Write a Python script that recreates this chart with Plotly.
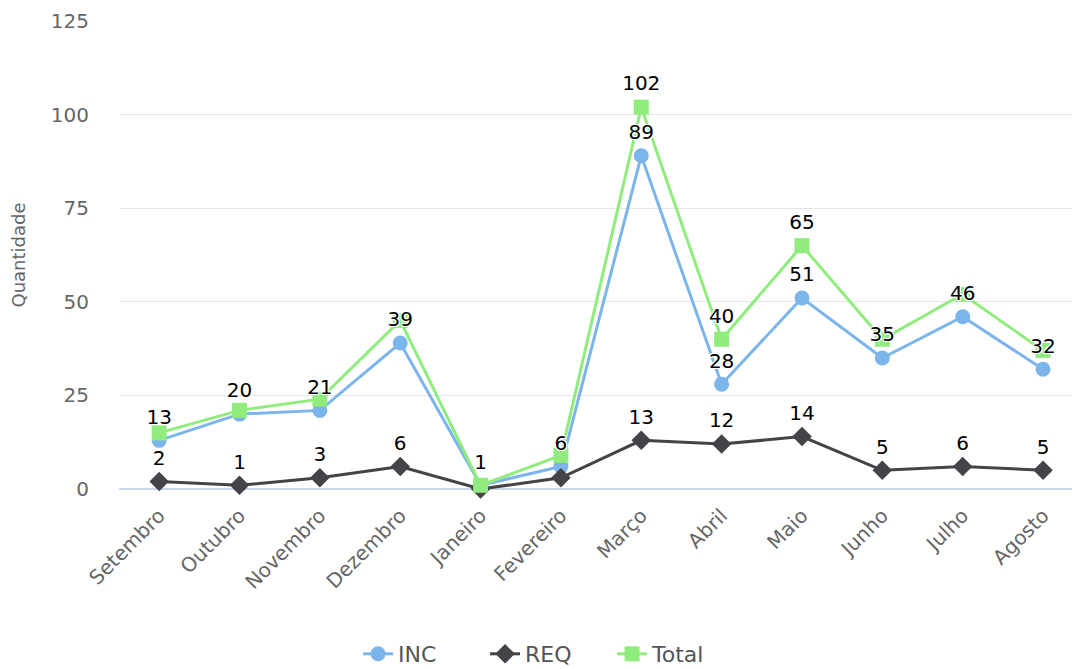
import plotly.graph_objects as go

months = ["Setembro", "Outubro", "Novembro", "Dezembro", "Janeiro", "Fevereiro",
          "Março", "Abril", "Maio", "Junho", "Julho", "Agosto"]
inc = [13, 20, 21, 39, 1, 6, 89, 28, 51, 35, 46, 32]
req = [2, 1, 3, 6, 0, 3, 13, 12, 14, 5, 6, 5]
total = [15, 21, 24, 45, 1, 9, 102, 40, 65, 40, 52, 37]

# which data labels remain visible (overlapping ones are hidden in the original)
show_inc = [1, 1, 1, 1, 1, 1, 1, 1, 1, 1, 1, 1]
show_req = [1, 1, 1, 1, 0, 0, 1, 1, 1, 1, 1, 1]
show_total = [0, 0, 0, 0, 0, 0, 1, 1, 1, 0, 0, 0]

y_ticks = [0, 25, 50, 75, 100, 125]

C_INC = "#7cb5ec"
C_REQ = "#434348"
C_TOT = "#90ed7d"
FONT = "DejaVu Sans"

x = list(range(len(months)))

fig = go.Figure()
series = [
    ("INC", inc, C_INC, "circle", 15, show_inc),
    ("REQ", req, C_REQ, "diamond", 15, show_req),
    ("Total", total, C_TOT, "square", 15, show_total),
]
for name, vals, col, sym, size, _ in series:
    fig.add_trace(go.Scatter(
        x=x, y=vals, name=name, mode="lines+markers",
        line=dict(color=col, width=3),
        marker=dict(color=col, symbol=sym, size=size, line=dict(width=0)),
        hoverinfo="skip", cliponaxis=False,
    ))

outline = "1px 1px 0 #fff, -1px -1px 0 #fff, 1px -1px 0 #fff, -1px 1px 0 #fff, 0 1px 0 #fff, 0 -1px 0 #fff, 1px 0 0 #fff, -1px 0 0 #fff"
for name, vals, col, sym, size, show in series:
    fig.add_trace(go.Scatter(
        x=x, y=vals, mode="markers+text", showlegend=False,
        marker=dict(size=17, opacity=0),
        text=[str(v) if s else "" for v, s in zip(vals, show)],
        textposition="top center",
        textfont=dict(family=FONT, size=20, color="#000000", shadow=outline),
        hoverinfo="skip", cliponaxis=False,
    ))

# the page body has an 8px default margin, so the figure is sized to fit inside the window
fig.update_layout(
    width=1072, height=661,
    margin=dict(l=111, r=0, t=13, b=180, autoexpand=False),
    paper_bgcolor="white", plot_bgcolor="white",
    font=dict(family=FONT, color="#666666"),
    showlegend=True,
    legend=dict(orientation="h", x=0.447, xanchor="center", y=-0.3526, yanchor="middle",
                font=dict(family=FONT, size=22, color="#555555"),
                itemwidth=30, entrywidth=82, traceorder="normal"),
    xaxis=dict(
        tickmode="array", tickvals=x, ticktext=months,
        range=[-0.5, 11.46], tickangle=-45,
        tickfont=dict(family=FONT, size=20, color="#666666"),
        ticks="outside", ticklen=6, tickcolor="rgba(0,0,0,0)",
        showgrid=False, zeroline=False,
        showline=False, automargin=False,
        fixedrange=True,
    ),
    yaxis=dict(
        range=[0, 125], tickvals=y_ticks,
        tickfont=dict(family=FONT, size=20, color="#666666"),
        gridcolor="#e6e6e6", gridwidth=1,
        zeroline=True, zerolinecolor="#ccd6eb", zerolinewidth=2,
        ticks="outside", ticklen=25, tickcolor="rgba(0,0,0,0)",
        automargin=False,
        title=dict(text="Quantidade", font=dict(family=FONT, size=18, color="#666666"), standoff=22),
        fixedrange=True,
    ),
)

fig.write_html("out.html")
